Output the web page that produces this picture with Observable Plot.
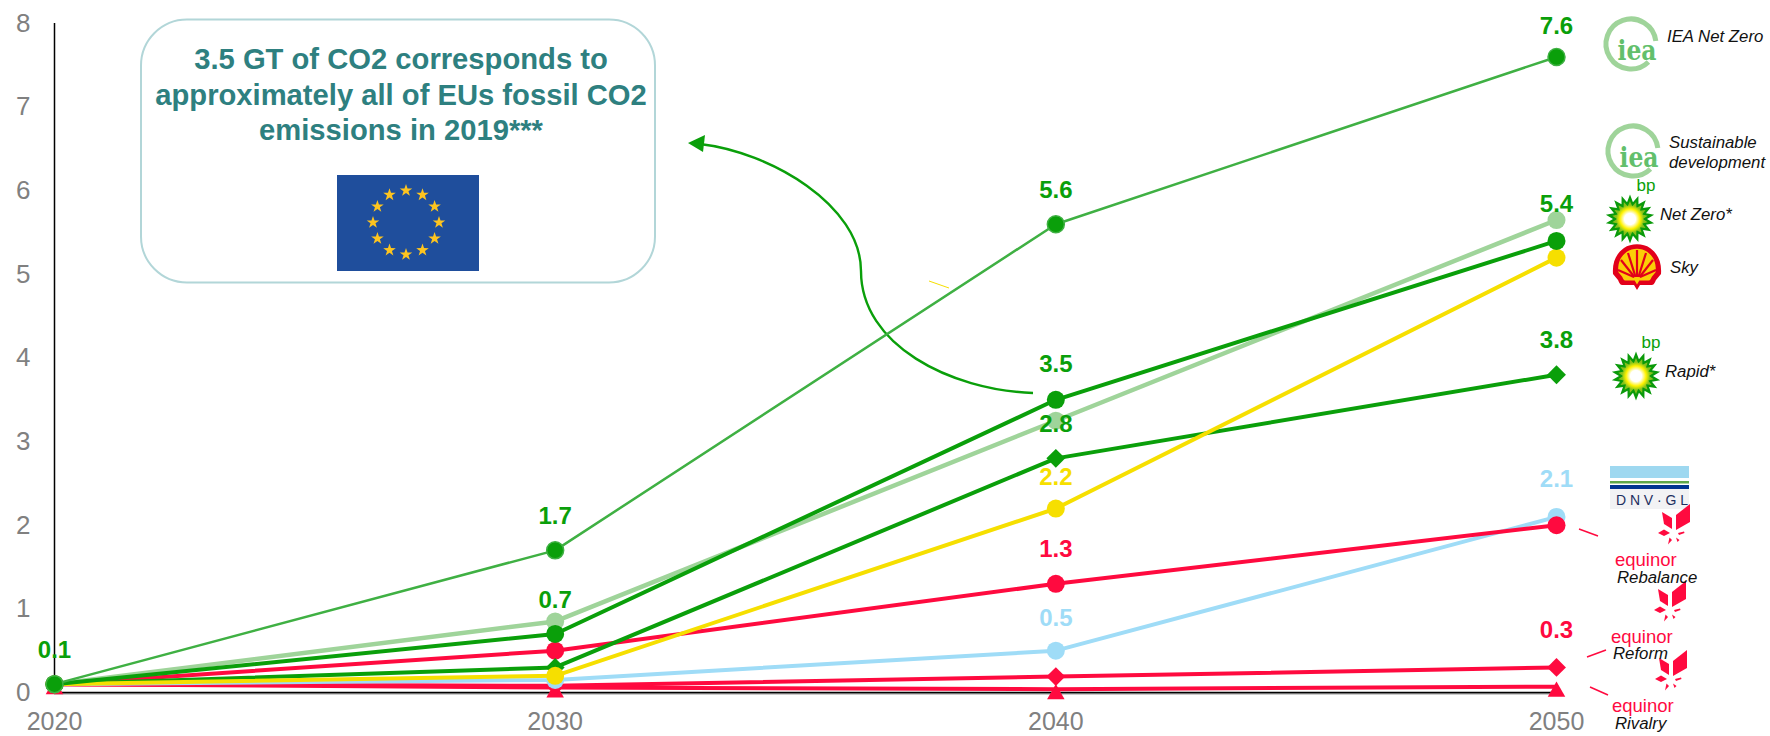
<!DOCTYPE html>
<html>
<head>
<meta charset="utf-8">
<script src="https://cdn.jsdelivr.net/npm/d3@7"></script>
<script src="https://cdn.jsdelivr.net/npm/@observablehq/plot@0.6"></script>
<style>
  html, body { margin: 0; padding: 0; background: #fff; }
  svg { display: block; }
</style>
</head>
<body>
<div id="chart"></div>
<script>
// CO2 removal by scenario, GT per year
const years = [2020, 2030, 2040, 2050];
const ieaNetZero = [0.1, 1.7, 5.6, 7.6];
const ieaSustainable = [0.1, 0.85, 3.25, 5.65];
const bpNetZero = [0.1, 0.7, 3.5, 5.4];
const bpRapid = [0.1, 0.3, 2.8, 3.8];
const shellSky = [0.1, 0.2, 2.2, 5.2];
const dnvGl = [0.1, 0.15, 0.5, 2.1];
const equinorRebalance = [0.1, 0.5, 1.3, 2.0];
const equinorReform = [0.1, 0.08, 0.19, 0.3];
const equinorRivalry = [0.1, 0.06, 0.04, 0.07];
const yTicks = [0, 1, 2, 3, 4, 5, 6, 7, 8];

const GREEN = "#0a9f0a", LIGHT = "#9fd49a", MID = "#3fb043",
      YELLOW = "#f6df00", BLUE = "#9fdcf7", RED = "#ff0a3f";

// Back to front: later scenarios sit on top of earlier ones
const scenarios = [
  {name: "Rivalry", values: equinorRivalry, color: RED, symbol: "triangle", r: 6.5, width: 4, dy: 5, labelled: []},
  {name: "Reform", values: equinorReform, color: RED, symbol: "diamond2", r: 8.5, width: 4, labelled: [2050]},
  {name: "DNV GL", values: dnvGl, color: BLUE, symbol: "circle", r: 9, width: 4, labelled: [2040, 2050]},
  {name: "Rebalance", values: equinorRebalance, color: RED, symbol: "circle", r: 9, width: 4, labelled: [2040]},
  {name: "Rapid", values: bpRapid, color: GREEN, symbol: "diamond2", r: 8.5, width: 4, labelled: [2040, 2050]},
  {name: "Sky", values: shellSky, color: YELLOW, symbol: "circle", r: 9, width: 4, labelled: [2040]},
  {name: "Sustainable development", values: ieaSustainable, color: LIGHT, symbol: "circle", r: 9, width: 4.5, labelled: []},
  {name: "Net Zero", values: bpNetZero, color: GREEN, symbol: "circle", r: 9, width: 4, labelled: [2020, 2030, 2040, 2050]},
  {name: "IEA Net Zero", values: ieaNetZero, color: MID, dotColor: GREEN, symbol: "circle", r: 8.5, width: 2.5, labelled: [2030, 2040, 2050]}
];

const rows = s => years.map((year, i) => ({year, value: s.values[i], name: s.name}));
const labelRows = scenarios.flatMap(s =>
  rows(s).filter(d => s.labelled.includes(d.year)).map(d => ({...d, color: s.dotColor ?? s.color}))
);

// Labels sit above their markers; a few are nudged clear of neighbouring lines
const labelLift = d => ({"7.6": 31, "5.4": 37, "2.1": 38, "0.3": 37, "3.5": 36, "2.2": 31, "0.5": 32}[d.value.toFixed(1)] ?? 34);
const labelGroups = d3.groups(labelRows, labelLift);

const FONT = "Liberation Sans, Arial, sans-serif";

// Small helper for building annotation shapes
const el = (parent, tag, attrs, text) => {
  const node = document.createElementNS("http://www.w3.org/2000/svg", tag);
  for (const k in attrs) node.setAttribute(k, attrs[k]);
  if (text != null) node.textContent = text;
  parent.appendChild(node);
  return node;
};

const star = (cx, cy, outer, inner, n, rot = -Math.PI / 2) => {
  const p = [];
  for (let i = 0; i < n * 2; i++) {
    const a = rot + i * Math.PI / n, r = i % 2 ? inner : outer;
    p.push(`${(cx + r * Math.cos(a)).toFixed(2)},${(cy + r * Math.sin(a)).toFixed(2)}`);
  }
  return p.join(" ");
};

function drawIea(g, cx, cy, tx, ty) {
  const R = 25;
  const a0 = 0.35, a1 = -0.12;
  el(g, "path", {
    d: `M${cx + R * Math.cos(a0 + 0.45)},${cy + R * Math.sin(a0 + 0.45)} A${R},${R} 0 1 1 ${cx + R * Math.cos(a1)},${cy + R * Math.sin(a1)}`,
    fill: "none", stroke: "#9fd49a", "stroke-width": 5
  });
  el(g, "text", {x: tx, y: ty, "text-anchor": "middle", "font-family": "DejaVu Serif, serif", "font-weight": 700,
    "font-size": 27, fill: "#62bf6c", textLength: 39, lengthAdjust: "spacingAndGlyphs"}, "iea");
}

function drawHelios(g, cx, cy, tx, ty) {
  el(g, "polygon", {points: star(cx, cy, 24.5, 17, 18), fill: "#0a9a0a"});
  el(g, "polygon", {points: star(cx, cy, 18, 13, 18), fill: "#86c21c"});
  el(g, "circle", {cx, cy, r: 14, fill: "url(#helios)"});
  el(g, "text", {x: tx, y: ty, "text-anchor": "middle", "font-family": FONT, "font-size": 17, fill: GREEN}, "bp");
}

function drawShell(g, cx, cy) {
  const s = el(g, "g", {transform: `translate(${cx},${cy})`});
  const outline = "M0,23 L-3,18 L-15,18 C-17,18 -18,15 -19,13 L-24,7 C-25,-6 -20,-14 -13,-19 C-6,-24 6,-24 13,-19 C20,-14 25,-6 24,7 L19,13 C18,15 17,18 15,18 L3,18 Z";
  el(s, "path", {d: outline, fill: "#e2001a"});
  el(s, "path", {d: outline, fill: "#fbce07", transform: "translate(0,-0.5) scale(0.78)"});
  const fan = [[-19, 3], [-16, -7], [-9, -14], [0, -17], [9, -14], [16, -7], [19, 3]];
  for (const [x, y] of fan) {
    el(s, "line", {x1: x * 0.16, y1: 10, x2: x, y2: y, stroke: "#e2001a", "stroke-width": 2.2});
  }
}

function drawEquinor(g, ox, oy) {
  const s = el(g, "g", {transform: `translate(${ox},${oy})`, fill: RED});
  el(s, "polygon", {points: "1662,512 1672,518 1672,529 1664,524"});
  el(s, "polygon", {points: "1676,515 1690,504 1690,522 1676,530"});
  el(s, "polygon", {points: "1658,533 1664,529.5 1670,533 1664,536"});
  el(s, "polygon", {points: "1678,533 1684,531.5 1684.5,533 1679,535"});
  el(s, "polygon", {points: "1668,544.5 1669.5,537.5 1672,540"});
  el(s, "polygon", {points: "1676,537.5 1679.5,540 1677.5,542"});
  el(s, "text", {x: 1615, y: 566, "text-anchor": "start", "font-family": FONT, "font-size": 18.5, fill: RED}, "equinor");
}

// Callout box, EU flag, curved arrow, scenario logos and their captions
function annotations() {
  const g = document.createElementNS("http://www.w3.org/2000/svg", "g");

  const defs = el(g, "defs", {});
  const grad = el(defs, "radialGradient", {id: "helios"});
  el(grad, "stop", {offset: "0.4", "stop-color": "#ffffff"});
  el(grad, "stop", {offset: "0.72", "stop-color": "#fff200"});
  el(grad, "stop", {offset: "1", "stop-color": "#fff200", "stop-opacity": 0});

  el(g, "rect", {x: 141, y: 19.5, width: 514, height: 263, rx: 46, fill: "#fff", stroke: "#b2d6d8", "stroke-width": 2});
  ["3.5 GT of CO2 corresponds to", "approximately all of EUs fossil CO2", "emissions in 2019***"].forEach((line, i) => {
    el(g, "text", {x: 401, y: 69 + i * 35.5, "text-anchor": "middle", "font-family": FONT, "font-weight": 700,
      "font-size": 29.2, fill: "#2e8080"}, line);
  });

  el(g, "rect", {x: 337, y: 175, width: 142, height: 96, fill: "#1f4e9c"});
  for (let i = 0; i < 12; i++) {
    const a = i * Math.PI / 6;
    el(g, "polygon", {points: star(406 + 33 * Math.sin(a), 222.5 - 32 * Math.cos(a), 6.6, 2.6, 5), fill: "#fdc41f"});
  }

  el(g, "path", {d: "M1033,393 C950,390 861,345 861,271 C861,205 770,152 700,144", fill: "none", stroke: GREEN, "stroke-width": 2.4});
  el(g, "polygon", {points: "688,143 705,135 703,152", fill: GREEN});

  el(g, "line", {x1: 929, y1: 281, x2: 949, y2: 288, stroke: YELLOW, "stroke-width": 1});
  const leaders = [[1579, 529, 1598, 536], [1587, 657, 1606, 650], [1590, 687, 1608, 695]];
  for (const [x1, y1, x2, y2] of leaders) el(g, "line", {x1, y1, x2, y2, stroke: RED, "stroke-width": 1.5});

  drawIea(g, 1631, 44, 1637, 60);
  drawIea(g, 1633, 151, 1639, 167);
  drawHelios(g, 1630, 219, 1646, 191);
  drawHelios(g, 1636, 376, 1651, 348);
  drawShell(g, 1637, 267);

  // DNV GL logo
  el(g, "rect", {x: 1610, y: 466, width: 79, height: 12, fill: "#9ed8f0"});
  el(g, "rect", {x: 1610, y: 481, width: 79, height: 2.5, fill: "#5fa84a"});
  el(g, "rect", {x: 1610, y: 485, width: 79, height: 4, fill: "#003591"});
  el(g, "rect", {x: 1610, y: 489, width: 79, height: 20, fill: "#f2f2f4"});
  el(g, "text", {x: 1616, y: 505, "text-anchor": "start", "font-family": FONT, "font-size": 14, fill: "#1e2f5f", textLength: 72,
    lengthAdjust: "spacing"}, "DNV·GL");

  drawEquinor(g, 0, 0);
  drawEquinor(g, -4, 77);
  drawEquinor(g, -3, 146);

  const captions = [
    ["IEA Net Zero", 1667, 42], ["Sustainable", 1669, 148], ["development", 1669, 168], ["Net Zero*", 1660, 220],
    ["Sky", 1670, 273], ["Rapid*", 1665, 377], ["Rebalance", 1617, 583], ["Reform", 1613, 659], ["Rivalry", 1615, 729]
  ];
  for (const [t, x, y] of captions) {
    el(g, "text", {x, y, "text-anchor": "start", "font-family": FONT, "font-style": "italic", "font-size": 16.8, fill: "#111"}, t);
  }
  return g;
}

const chart = Plot.plot({
  width: 1770,
  height: 736,
  marginLeft: 54,
  marginRight: 214,
  marginTop: 23,
  marginBottom: 44,
  style: {fontFamily: FONT, background: "#fff"},
  x: {domain: [2020, 2050], label: null},
  y: {domain: [0, 8], label: null},
  marks: [
    annotations,
    Plot.ruleY([0], {stroke: "#999", strokeWidth: 1.5, dy: 1.2}),
    Plot.ruleY([0], {stroke: "#000", strokeWidth: 1.5}),
    Plot.ruleX([2020], {stroke: "#000", strokeWidth: 1.5}),
    Plot.axisX({ticks: years, tickFormat: "d", tickSize: 0, tickPadding: 20, fontSize: 25, color: "#808080", label: null}),
    Plot.axisY({ticks: yTicks, tickSize: 0, tickPadding: 24, fontSize: 26, color: "#808080", label: null}),
    ...scenarios.flatMap(s => [
      Plot.line(rows(s), {x: "year", y: "value", stroke: s.color, strokeWidth: s.width}),
      Plot.dot(rows(s), {x: "year", y: "value", symbol: () => s.symbol, r: s.r, dy: s.dy ?? 0,
        fill: s.dotColor ?? s.color, stroke: s.dotColor ? s.color : "none", strokeWidth: 1.5})
    ]),
    ...labelGroups.map(([lift, group]) => Plot.text(group, {
      x: "year", y: "value", text: d => d.value.toFixed(1), fill: "color", dy: -lift,
      fontSize: 24, fontWeight: 700
    }))
  ]
});
document.getElementById("chart").appendChild(chart);
</script>
</body>
</html>
